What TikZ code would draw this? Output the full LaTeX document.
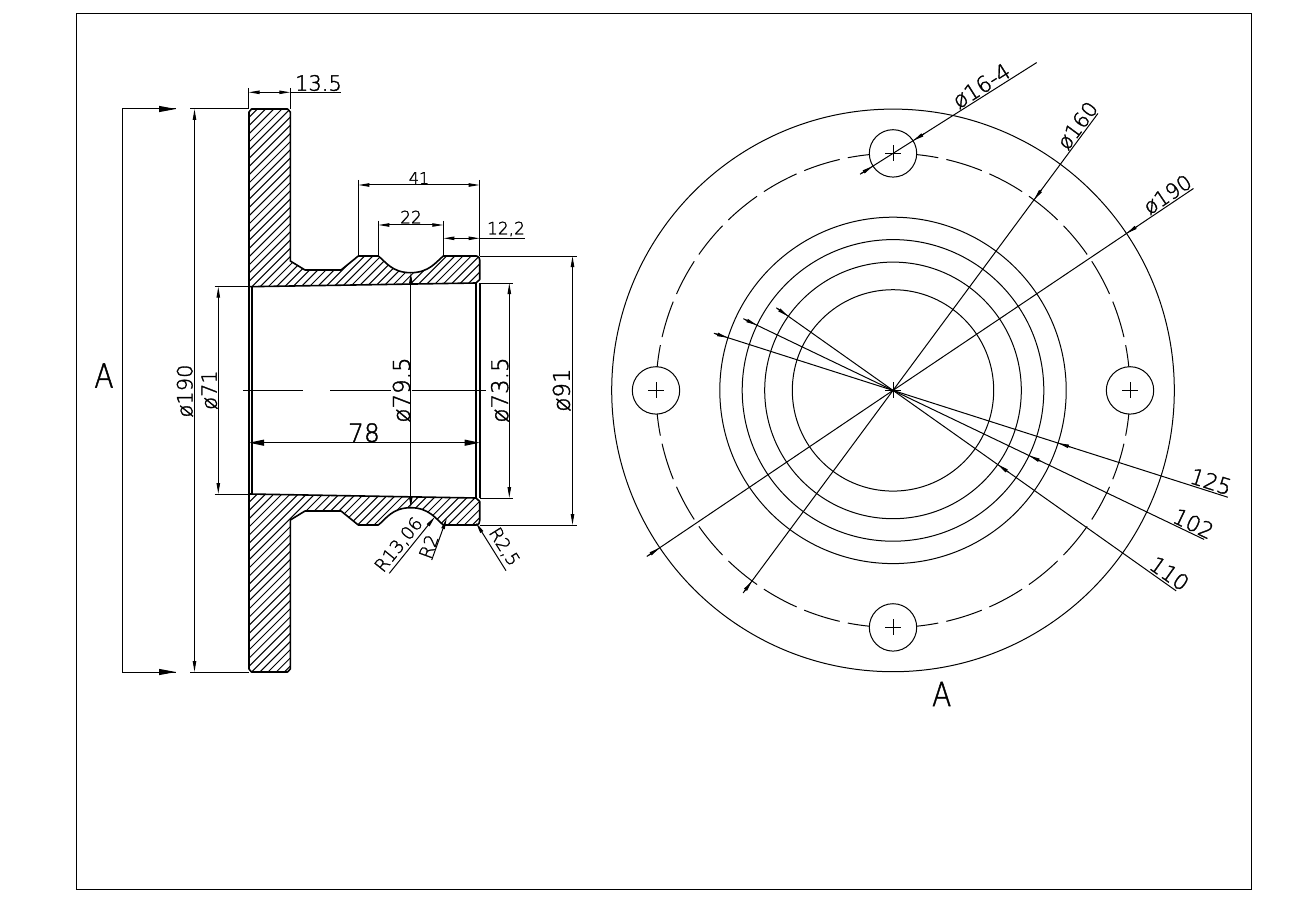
\documentclass[tikz,border=0pt]{standalone}
\usepackage{fontspec}
\setmainfont{DejaVu Sans ExtraLight}[FakeBold=1.5]
\usetikzlibrary{arrows.meta,calc}
\newcommand{\secTop}{(251.5,109) -- (287.5,109) -- (290.3,112) -- (290.3,261) -- (305,270) -- (341,270) -- (358.3,256) -- (378.3,256) .. controls (386,262) and (392,272.7) .. (410.8,272.7) .. controls (429,272.7) and (436,262) .. (443.3,256) -- (476.5,256) .. controls (478.7,256) and (479.7,258) .. (479.7,260) -- (479.7,279.5) -- (476,283) -- (249,286.7) -- (249,112) -- cycle}
\newcommand{\secBot}{(249,494) -- (476,498) -- (479.7,501.5) -- (479.7,520.5) .. controls (479.7,523) and (478.7,525) .. (476.5,525) -- (443.3,525) .. controls (436,519) and (429,507.7) .. (410.8,507.7) .. controls (392,507.7) and (386,519) .. (378.3,525) -- (358.3,525) -- (341,511) -- (305,511) -- (290.3,520) -- (290.3,669) -- (287.5,672) -- (251.5,672) -- (249,669) -- cycle}
\newcommand{\lbl}[5]{\node[lab,rotate=#4] (#1) at (#2) {\fontsize{#3}{#3}\selectfont #5};}
\newcommand{\spoke}[3]{% angle, far radius, tip radius
  \draw[thin line] (C) -- ++(#1:#2);
  \draw[thin line,tiny tip] ($(C)+(#1:#3+13)$) -- ($(C)+(#1:#3)$);}
\tikzset{
  thin line/.style={line width=1pt,black},
  thick line/.style={line width=1.6pt,black},
  hatch line/.style={line width=1pt,black},
  tiny tip/.style={-{Triangle[length=11pt,width=3.4pt]}},
  both tips/.style={{Triangle[length=11pt,width=3.4pt]}-{Triangle[length=11pt,width=3.4pt]}},
  big tips/.style={{Triangle[length=15pt,width=6pt]}-{Triangle[length=15pt,width=6pt]}},
  lab/.style={inner sep=0pt,outer sep=0pt,anchor=center,text=black}
}
\begin{document}
\begin{tikzpicture}[x=1pt,y=-1pt]
\useasboundingbox (0,0) rectangle (1313,917);
\fill[white] (0,0) rectangle (1313,917);
\draw[line width=1.1pt] (76.5,13.5) rectangle (1251.5,889.5);
% ---- section hatch
\begin{scope}
\clip \secTop;
\foreach \k in {350,358.2,...,780} \draw[hatch line] (\k-90,90) -- (\k-300,300);
\end{scope}
\begin{scope}
\clip \secBot;
\foreach \k in {735,743.2,...,1160} \draw[hatch line] (\k-480,480) -- (\k-700,700);
\end{scope}
\draw[thick line,line join=round] \secTop;
\draw[thick line,line join=round] \secBot;
% bore edges
\draw[thick line] (252,286.5) -- (252,494);
\draw[thick line] (249,286.5) -- (249,494);
\draw[thick line] (475.7,283) -- (475.7,498);
\draw[thick line] (479.7,283) -- (479.7,498);
% centre line
\draw[thin line] (243.3,390) -- (302.7,390) (330,390) -- (391,390) (411.7,390) -- (485.7,390);
% ---- left dimensions
\draw[thin line] (176,109) -- (122,109) -- (122,672) -- (176,672);
\draw[thin line,-{Triangle[length=17pt,width=6pt]}] (150,109) -- (176,109);
\draw[thin line,-{Triangle[length=17pt,width=6pt]}] (150,672) -- (176,672);
\draw[thin line] (190,109) -- (249,109) (190,672) -- (249,672);
\draw[thin line,both tips] (194.5,109) -- (194.5,672);
\draw[thin line] (214.5,286.7) -- (249,286.7) (214.5,494) -- (249,494);
\draw[thin line,both tips] (218.3,286.7) -- (218.3,494);
\draw[thin line] (480,283) -- (513,283) (480,498) -- (513,498);
\draw[thin line,both tips] (509.3,283) -- (509.3,498);
\draw[thin line] (479.7,256) -- (577,256) (479.7,525) -- (577,525);
\draw[thin line,both tips] (572.5,256) -- (572.5,525);
\draw[thin line,both tips] (410.8,272.7) -- (410.8,507.7);
\draw[thin line,big tips] (249,442.7) -- (479.7,442.7);
% top dimensions
\draw[thin line] (248.5,88) -- (248.5,109) (290.3,88) -- (290.3,109);
\draw[thin line,both tips] (248.5,92.3) -- (290.3,92.3);
\draw[thin line] (290.3,92.3) -- (341,92.3);
\draw[thin line] (358.3,180) -- (358.3,256) (479.7,180) -- (479.7,256);
\draw[thin line,both tips] (358.3,185) -- (479.7,185);
\draw[thin line] (378.3,220.7) -- (378.3,256) (443.3,220.7) -- (443.3,256);
\draw[thin line,both tips] (378.3,225) -- (443.3,225);
\draw[thin line,both tips] (443.3,238.3) -- (479.7,238.3);
\draw[thin line] (479.7,238.3) -- (525,238.3);
% radius leaders
\draw[thin line,tiny tip] (389.3,573.3) -- (435,516.7);
\draw[thin line,tiny tip] (431.7,560) -- (446.7,518.3);
\draw[thin line,tiny tip] (506,570.7) -- (476,522.7);
% labels left
\lbl{tA}{104,375.5}{33}{0}{\scalebox{.85}[1]{A}}
\lbl{t190}{185,391}{21}{90}{ø190}
\lbl{t71}{209.5,390}{21}{90}{ø71}
\lbl{t795}{401.7,390}{23}{90}{ø79.5}
\lbl{t735}{500,390}{23}{90}{ø73.5}
\lbl{t91}{561.7,390}{23}{90}{ø91}
\lbl{t78}{364,432.7}{25}{0}{78}
\lbl{t135}{318.5,83}{21}{0}{13.5}
\lbl{t41}{419,178}{16}{0}{41}
\lbl{t22}{411,217}{17}{0}{22}
\lbl{t122}{506,229}{17}{0}{12,2}
\lbl{tR13}{399,545}{18}{51}{R13,06}
\lbl{tR2}{428.5,546.5}{18}{70}{R2}
\lbl{tR25}{504,547}{18}{-58}{R2,5}
% ---- right view
\coordinate (C) at (893,390.4);
\draw[thin line] (C) circle[radius=281.3];
\foreach \r in {100.7,128.3,150.8,173.2} \draw[thin line] (C) circle[radius=\r];
\foreach \q in {0,90,180,270}
  \foreach \a/\b in {0/11,13/22,24/33,35/44,46/55,57/66,68/77,79/90}
    \draw[thin line] ($(C)+(\q+\a:237)$) arc[start angle=\q+\a,end angle=\q+\b,radius=237];
\foreach \n/\ang in {a/-90,b/0,c/90,d/180}{
  \coordinate (h\n) at ($(C)+(\ang:237)$);
  \draw[thin line,fill=white] (h\n) circle[radius=23.7];
  \draw[thin line] ($(h\n)+(-8,0)$) -- ($(h\n)+(8,0)$) ($(h\n)+(0,-8)$) -- ($(h\n)+(0,8)$);
}
\draw[thin line] ($(C)+(-8,0)$) -- ($(C)+(8,0)$) ($(C)+(0,-8)$) -- ($(C)+(0,8)$);
% leaders through the centre
\spoke{-53.5}{344.5}{237}
\spoke{126.5}{252}{237}
\spoke{-33.9}{362}{281.3}
\spoke{146}{297}{281.3}
\spoke{17.7}{351.5}{173.2}
\spoke{197.7}{188}{173.2}
\spoke{25.6}{345}{150.8}
\spoke{205.6}{166}{150.8}
\spoke{35.3}{347}{128.3}
\spoke{215.3}{143}{128.3}
% hole leader
\draw[thin line] ($(ha)+(147.7:39)$) -- ($(ha)+(-32.3:170)$);
\draw[thin line,tiny tip] ($(ha)+(-32.3:37)$) -- ($(ha)+(-32.3:23.7)$);
\draw[thin line,tiny tip] ($(ha)+(147.7:37)$) -- ($(ha)+(147.7:23.7)$);
% labels right
\lbl{th}{981.5,86}{22}{32.3}{ø16-4}
\lbl{t160}{1077.5,125.5}{21}{53.5}{ø160}
\lbl{t190r}{1167.5,194.5}{21}{33.9}{ø190}
\lbl{t125}{1211,481.5}{22}{-17.7}{125}
\lbl{t102}{1193.5,523.5}{22}{-25.6}{102}
\lbl{t110}{1169.5,573.5}{22}{-35.3}{110}
\lbl{tA2}{941.7,694}{33}{0}{\scalebox{.85}[1]{A}}
\end{tikzpicture}
\end{document}
